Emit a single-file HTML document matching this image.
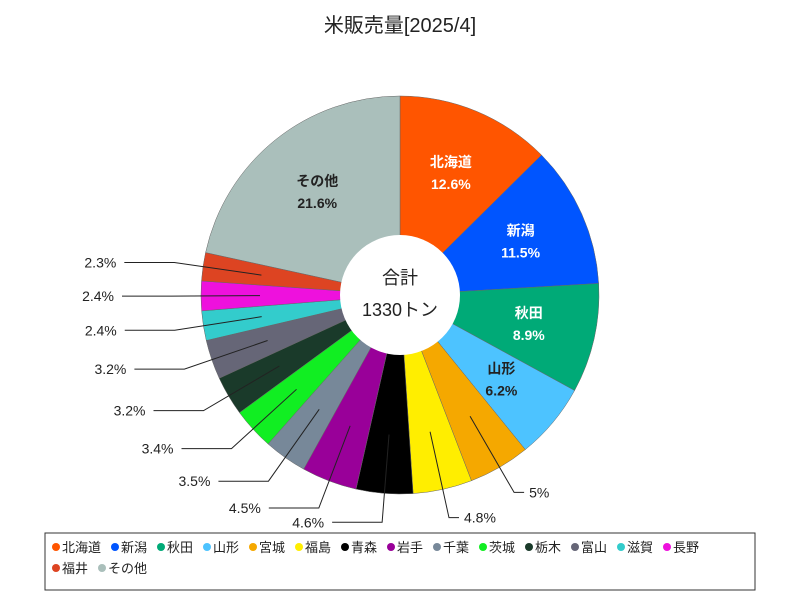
<!DOCTYPE html>
<html><head><meta charset="utf-8"><style>
body{margin:0;background:#fff;font-family:"Liberation Sans","Noto Sans CJK JP",sans-serif;}
svg text{font-family:"Liberation Sans","Noto Sans CJK JP",sans-serif;}
</style></head><body>
<svg id="c" width="800" height="600">
<rect width="800" height="600" fill="#fff"/>
<text x="400" y="32" text-anchor="middle" font-size="20" fill="#222">米販売量[2025/4]</text>
<g id="slices"></g>
<circle cx="400" cy="295" r="60" fill="#fff"/>
<text x="400" y="284" text-anchor="middle" font-size="18" fill="#222">合計</text>
<text x="400" y="316" text-anchor="middle" font-size="18" fill="#222">1330トン</text>
<rect x="45" y="533" width="710" height="57" fill="#fff" stroke="#333"/>
<g id="legend"></g>
</svg>
<script>
const categories=["北海道","新潟","秋田","山形","宮城","福島","青森","岩手","千葉","茨城","栃木","富山","滋賀","長野","福井","その他"];
const values=[12.6,11.5,8.9,6.2,5,4.8,4.6,4.5,3.5,3.4,3.2,3.2,2.4,2.4,2.3,21.6];
const colors=["#ff5500","#0055ff","#00aa77","#4dc3ff","#f5a800","#ffee00","#000000","#990099","#778899","#11ee22","#1a3a2a","#666677","#33cccc","#ee11dd","#dd4422","#aabfbb"];
const NS="http://www.w3.org/2000/svg";
const cx=400,cy=295,R=199;
const total=values.reduce((a,b)=>a+b,0);
const sg=document.getElementById("slices");
function mk(t,a,p){const e=document.createElementNS(NS,t);for(const k in a)e.setAttribute(k,a[k]);p.appendChild(e);return e;}
function pt(r,a){return [cx+r*Math.sin(a),cy-r*Math.cos(a)];}
let acc=0;
values.forEach((v,i)=>{
 const a0=acc/total*2*Math.PI;acc+=v;const a1=acc/total*2*Math.PI;
 const p0=pt(R,a0),p1=pt(R,a1);const large=(a1-a0)>Math.PI?1:0;
 const path=mk("path",{d:`M${cx},${cy}L${p0[0]},${p0[1]}A${R},${R} 0 ${large} 1 ${p1[0]},${p1[1]}Z`,fill:colors[i],stroke:"#666","stroke-width":"0.5"},sg);
 
 
 const am=(a0+a1)/2;
 const lbl=v+"%";
 if(v>=6||i===values.length-1){
  const p=pt(132,am);
  const dark=(i===3||i===15);
  const t1=mk("text",{x:p[0],y:p[1]-6,"text-anchor":"middle","font-size":"14","font-weight":"bold",fill:dark?"#222":"#fff"},sg);
  t1.textContent=categories[i];
  
  
  const t2=mk("text",{x:p[0],y:p[1]+16,"text-anchor":"middle","font-size":"14","font-weight":"bold",fill:dark?"#222":"#fff"},sg);
  t2.textContent=lbl;
  
  
 } else {
  const s=pt(140,am),e=pt(228,am);const right=Math.sin(am)>0;
  const hx=e[0]+(right?10:-50);
  const l=mk("polyline",{points:`${s[0]},${s[1]} ${e[0]},${e[1]} ${hx},${e[1]}`,fill:"none",stroke:"#222","stroke-width":"1"},sg);
  
  
  const t=mk("text",{x:right?hx+5:hx-8,y:e[1]+5,"text-anchor":right?"start":"end","font-size":"14",fill:"#222"},sg);
  t.textContent=lbl;
  
  
 }
});
const lg=document.getElementById("legend");
let x=52,y=552;
categories.forEach((c,i)=>{
 const w=14+c.length*13+6;
 if(x+w>752){x=52;y+=21;}
 const g=mk("g",{},lg);
 
 
 mk("circle",{cx:x+4,cy:y-5,r:4,fill:colors[i]},g);
 const t=mk("text",{x:x+10,y:y,"font-size":"13",fill:"#222"},g);t.textContent=c;
 x+=w;
});
</script>
</body></html>
